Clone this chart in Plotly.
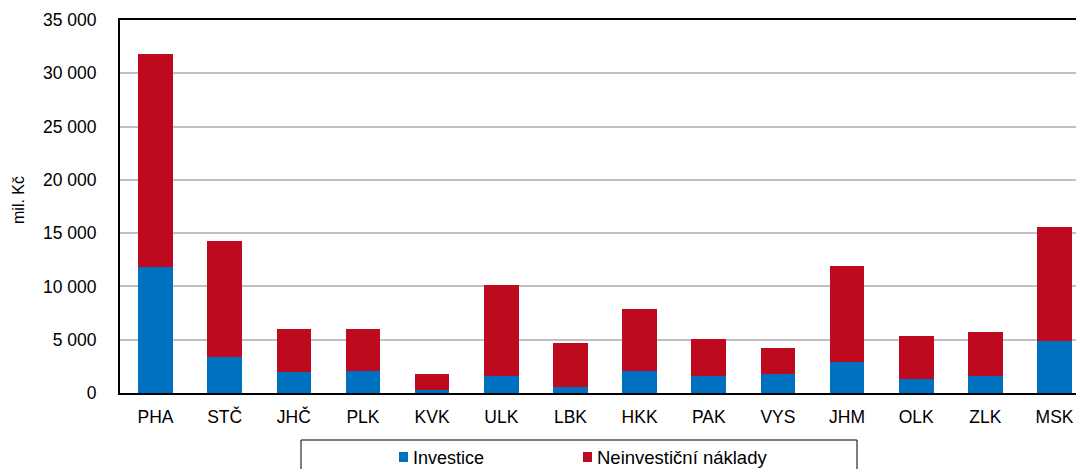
import plotly.graph_objects as go

kraje = ["PHA", "STČ", "JHČ", "PLK", "KVK", "ULK", "LBK", "HKK", "PAK", "VYS", "JHM", "OLK", "ZLK", "MSK"]
investice = [11800, 3400, 1950, 2050, 250, 1600, 600, 2050, 1550, 1750, 2900, 1300, 1550, 4850]
neinvesticni = [20000, 10850, 4100, 3950, 1500, 8550, 4100, 5800, 3500, 2450, 9050, 4050, 4150, 10750]
y_ticks = [0, 5000, 10000, 15000, 20000, 25000, 30000, 35000]

W, H = 1076, 469
L, R, T, B = 120, 0, 20, 76
FONT = "Liberation Sans, Arial, sans-serif"
BLUE = "#0070C0"
RED = "#BE0A1E"

def px_x(p):
    return (p - L) / (W - L - R)

def px_y(p):
    return (H - B - p) / (H - T - B)

fig = go.Figure()
fig.add_trace(go.Bar(x=kraje, y=investice, name="Investice", marker=dict(color=BLUE, line=dict(width=0)), width=0.5))
fig.add_trace(go.Bar(x=kraje, y=neinvesticni, name="Neinvestiční náklady", marker=dict(color=RED, line=dict(width=0)), width=0.5))

shapes = [
    # legend frame
    dict(type="rect", xref="paper", yref="paper", x0=px_x(301), x1=px_x(857), y0=px_y(485), y1=px_y(440),
         line=dict(color="black", width=1), fillcolor="rgba(0,0,0,0)", layer="above"),
    dict(type="rect", xref="paper", yref="paper", x0=px_x(399), x1=px_x(408), y0=px_y(462), y1=px_y(452),
         line=dict(width=0), fillcolor=BLUE),
    dict(type="rect", xref="paper", yref="paper", x0=px_x(583), x1=px_x(592), y0=px_y(462), y1=px_y(452),
         line=dict(width=0), fillcolor=RED),
]
annotations = [
    dict(text="Investice", xref="paper", yref="paper", x=px_x(411), y=px_y(458), xanchor="left", yanchor="middle",
         showarrow=False, font=dict(family=FONT, size=18, color="black")),
    dict(text="Neinvestiční náklady", xref="paper", yref="paper", x=px_x(595), y=px_y(458), xanchor="left", yanchor="middle",
         showarrow=False, font=dict(family=FONT, size=18.5, color="black")),
    dict(text="mil. Kč", xref="paper", yref="paper", x=px_x(18), y=px_y(200), xanchor="center", yanchor="middle",
         textangle=-90, showarrow=False, font=dict(family=FONT, size=16, color="black")),
]

fig.update_layout(
    width=W, height=H,
    margin=dict(l=L, r=R, t=T, b=B, pad=0),
    barmode="stack",
    showlegend=False,
    plot_bgcolor="white", paper_bgcolor="white",
    separators=", ",
    font=dict(family=FONT, size=17.5, color="black"),
    shapes=shapes,
    annotations=annotations,
    xaxis=dict(
        type="category", range=[-0.513, 13.31],
        showline=True, linecolor="black", linewidth=2, mirror=True,
        ticks="", showgrid=False, ticklabelstandoff=7,
        tickfont=dict(family=FONT, size=17.5, color="black"),
    ),
    yaxis=dict(
        range=[0, 35000], tickvals=y_ticks, tickformat=",d",
        showline=True, linecolor="black", linewidth=2,
        showgrid=True, gridcolor="#C0C0C0", gridwidth=1.5,
        ticks="", ticklabelstandoff=18, zeroline=False,
        tickfont=dict(family=FONT, size=17.5, color="black"),
    ),
)

fig.write_html(
    "out.html",
    config={"displayModeBar": False},
    post_script="document.body.style.margin='0';document.body.style.padding='0';document.body.style.overflow='hidden';",
)
